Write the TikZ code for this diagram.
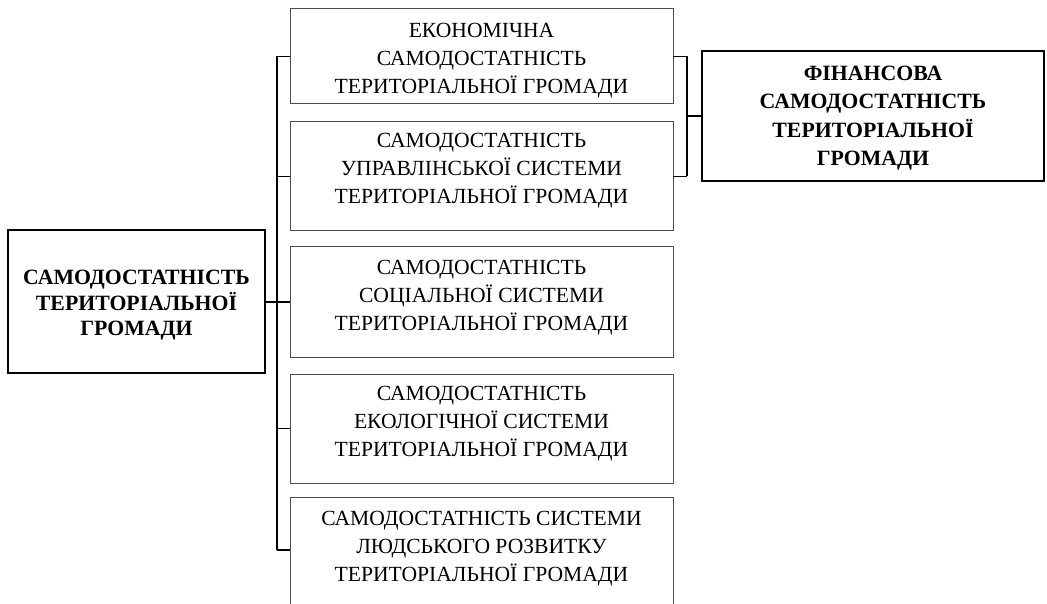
\documentclass[tikz,border=0pt]{standalone}
\usepackage{fontspec}
\setmainfont{Liberation Serif}
\begin{document}
\begin{tikzpicture}[x=1pt,y=-1pt,
  box/.style={draw=black!70, line width=1pt, minimum width=383pt, inner sep=0pt, outer sep=0pt},
  boxtext/.style={align=center, inner sep=0pt, font=\fontsize{21.6}{28}\selectfont},
  thickbox/.style={draw=black, line width=2.8pt, inner sep=0pt, outer sep=0pt, align=center},
  conn/.style={draw=black, line width=1.4pt}]
\useasboundingbox (0,0) rectangle (1047,604);
\clip (0,0) rectangle (1047,604);
% side boxes
\node[box, minimum height=95pt]  (b1) at (481.5,56.5) {};
\node[box, minimum height=109pt] (b2) at (481.5,176.5) {};
\node[box, minimum height=110pt] (b3) at (481.5,302) {};
\node[box, minimum height=109pt] (b4) at (481.5,428.5) {};
\node[box, minimum height=110pt] (b5) at (481.5,552) {};
\node[boxtext] (t1) at (481.5,61) {ЕКОНОМІЧНА\\САМОДОСТАТНІСТЬ\\ТЕРИТОРІАЛЬНОЇ ГРОМАДИ};
\node[boxtext] (t2) at (481.5,170.5) {САМОДОСТАТНІСТЬ\\УПРАВЛІНСЬКОЇ СИСТЕМИ\\ТЕРИТОРІАЛЬНОЇ ГРОМАДИ};
\node[boxtext] (t3) at (481.5,297.5) {САМОДОСТАТНІСТЬ\\СОЦІАЛЬНОЇ СИСТЕМИ\\ТЕРИТОРІАЛЬНОЇ ГРОМАДИ};
\node[boxtext] (t4) at (481.5,424) {САМОДОСТАТНІСТЬ\\ЕКОЛОГІЧНОЇ СИСТЕМИ\\ТЕРИТОРІАЛЬНОЇ ГРОМАДИ};
\node[boxtext] (t5) at (481.5,548.5) {САМОДОСТАТНІСТЬ СИСТЕМИ\\ЛЮДСЬКОГО РОЗВИТКУ\\ТЕРИТОРІАЛЬНОЇ ГРОМАДИ};
% main boxes
\node[thickbox, minimum width=257pt, minimum height=143pt] (main) at (136.5,301.5) {};
\node[align=center, inner sep=0pt, font=\fontsize{21.8}{25.5}\selectfont\bfseries] (maint) at (136.5,305.5)
  {САМОДОСТАТНІСТЬ\\ТЕРИТОРІАЛЬНОЇ\\ГРОМАДИ};
\node[thickbox, minimum width=342pt, minimum height=130pt] (fin) at (873,116) {};
\node[align=center, inner sep=0pt, font=\fontsize{21.8}{28.4}\selectfont\bfseries] (fint) at (873,118)
  {ФІНАНСОВА\\САМОДОСТАТНІСТЬ\\ТЕРИТОРІАЛЬНОЇ\\ГРОМАДИ};
% left bracket
\coordinate (spT) at (277,56.5);
\coordinate (spB) at (277,550);
\coordinate (b5t) at (290,550);
\draw[conn] (spT) -- (spB);
\draw[conn] (b1.west) -- (b1.west -| spT);
\draw[conn] (b2.west) -- (b2.west -| spT);
\draw[conn] (b3.west) -- (b3.west -| spT);
\draw[conn] (b4.west) -- (b4.west -| spT);
\draw[conn] (b5t) -- (b5t -| spT);
\draw[conn, line width=2pt] (main.east) -- (main.east -| spT);
% right bracket
\coordinate (rT) at (687,56.5);
\coordinate (rB) at (687,176.5);
\draw[conn] (rT) -- (rB);
\draw[conn] (b1.east) -- (b1.east -| rT);
\draw[conn] (b2.east) -- (b2.east -| rT);
\draw[conn] (fin.west) -- (fin.west -| rT);
\end{tikzpicture}
\end{document}
